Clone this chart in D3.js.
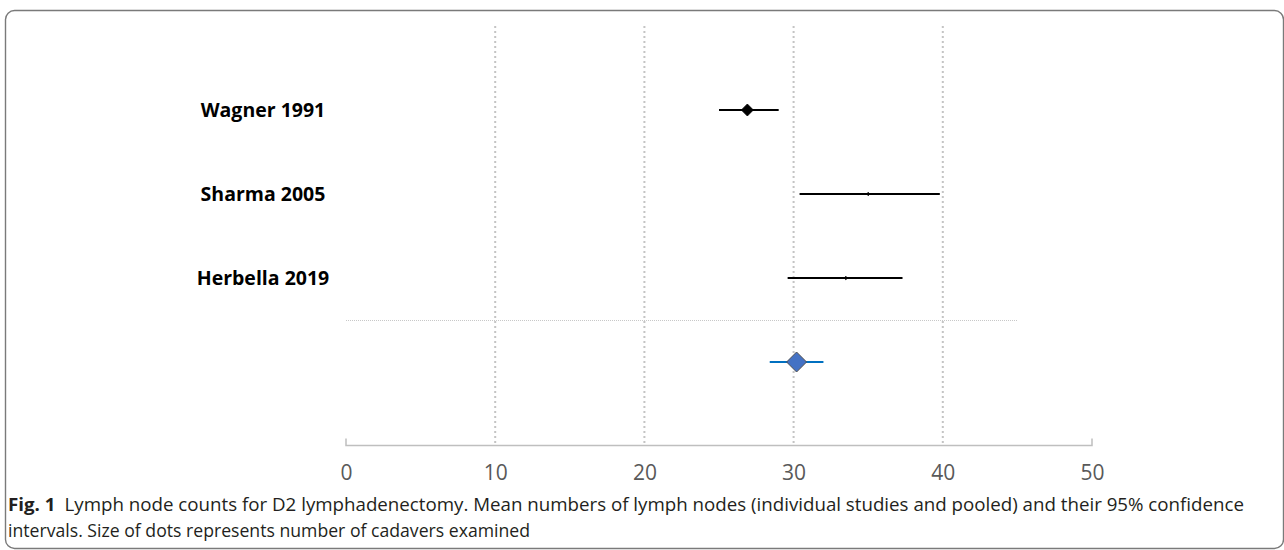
<!DOCTYPE html>
<html>
<head>
<meta charset="utf-8">
<script src="https://cdn.jsdelivr.net/npm/d3@7"></script>
<style>
  body { margin: 0; background: #fff; }
  svg { display: block; }
</style>
</head>
<body>
<div id="chart-area"></div>
<script>

// study data
let studies = ["Wagner 1991", "Sharma 2005", "Herbella 2019"];
let means = [26.9, 35.0, 33.5];
let lower = [25.0, 30.4, 29.6];
let upper = [29.0, 39.8, 37.3];
let cadavers = [100, 1, 1];   // relative weight -> marker size

// pooled estimate
let pooledMean = 30.2;
let pooledLower = 28.4;
let pooledUpper = 32.0;

let xTicks = [0, 10, 20, 30, 40, 50];

let captionBold = "Fig. 1";
let captionLine1 = "Lymph node counts for D2 lymphadenectomy. Mean numbers of lymph nodes (individual studies and pooled) and their 95% confidence";
let captionLine2 = "intervals. Size of dots represents number of cadavers examined";

let W = 1284, H = 550;

let svg = d3.select("#chart-area").append("svg")
    .attr("width", W)
    .attr("height", H);

// frame
svg.append("rect")
    .attr("x", 5.5).attr("y", 10.5)
    .attr("width", W - 6).attr("height", H - 12)
    .attr("rx", 9)
    .attr("fill", "none")
    .attr("stroke", "#7a7a7a")
    .attr("stroke-width", 1.4);

let x = d3.scaleLinear().domain([0, 50]).range([346, 1092]);
// row index -> vertical position
let y = d3.scaleLinear().domain([-1, 4]).range([26, 446]);

let g = svg.append("g");

// vertical dotted gridlines
g.selectAll(".grid")
    .data(xTicks.filter(d => d > 0 && d < 50))
    .enter().append("line")
    .attr("class", "grid")
    .attr("x1", d => x(d)).attr("x2", d => x(d))
    .attr("y1", y(-1)).attr("y2", y(4) - 1)
    .attr("stroke", "#c4c4c4")
    .attr("stroke-width", 2)
    .attr("stroke-dasharray", "2,3");

// horizontal separator before pooled row
g.append("line")
    .attr("x1", x(0)).attr("x2", x(45))
    .attr("y1", y(2.5) + 0.5).attr("y2", y(2.5) + 0.5)
    .attr("stroke", "#c8c8c8")
    .attr("stroke-width", 1)
    .attr("stroke-dasharray", "1,1");

// x axis
let xAxis = d3.axisBottom(x)
    .tickValues(xTicks)
    .tickSize(0)
    .tickPadding(20)
    .tickFormat(d3.format("d"));

let axisG = g.append("g")
    .attr("transform", "translate(0," + (y(4) - 0.5) + ")")
    .call(xAxis);
axisG.select(".domain").remove();
axisG.append("path")
    .attr("d", "M" + x(0) + ",-7V0H" + x(50) + "V-7")
    .attr("fill", "none")
    .attr("stroke", "#bfbfbf")
    .attr("stroke-width", 1.5);
axisG.selectAll("text")
    .attr("fill", "#595959")
    .style("font-family", "'Open Sans', 'Noto Sans', sans-serif")
    .style("font-size", "21px");

// study labels
g.selectAll(".label")
    .data(studies)
    .enter().append("text")
    .attr("class", "label")
    .attr("x", 263)
    .attr("y", (d, i) => y(i) + 7)
    .attr("text-anchor", "middle")
    .style("font-family", "'Open Sans', 'Noto Sans', sans-serif")
    .style("font-weight", "bold")
    .style("font-size", "19.5px")
    .text(d => d);

// confidence intervals
g.selectAll(".ci")
    .data(studies)
    .enter().append("line")
    .attr("class", "ci")
    .attr("x1", (d, i) => x(lower[i])).attr("x2", (d, i) => x(upper[i]))
    .attr("y1", (d, i) => y(i)).attr("y2", (d, i) => y(i))
    .attr("stroke", "#000")
    .attr("stroke-width", 2.2);

let size = d3.scaleSqrt().domain([0, 100]).range([1.2, 6]);

g.selectAll(".pt")
    .data(studies)
    .enter().append("path")
    .attr("class", "pt")
    .attr("transform", (d, i) => "translate(" + x(means[i]) + "," + y(i) + ")")
    .attr("d", (d, i) => {
        let r = size(cadavers[i]);
        return "M0," + (-r) + "L" + r + ",0L0," + r + "L" + (-r) + ",0Z";
    })
    .attr("fill", "#000")
    .attr("stroke", "#000")
    .attr("stroke-width", 0.8);

// pooled
g.append("line")
    .attr("x1", x(pooledLower)).attr("x2", x(pooledUpper))
    .attr("y1", y(3)).attr("y2", y(3))
    .attr("stroke", "#0070c0")
    .attr("stroke-width", 2.2);

let pr = 10;
g.append("path")
    .attr("transform", "translate(" + x(pooledMean) + "," + y(3) + ")")
    .attr("d", "M0," + (-pr) + "L" + pr + ",0L0," + pr + "L" + (-pr) + ",0Z")
    .attr("fill", "#4472c4")
    .attr("stroke", "#505050")
    .attr("stroke-width", 1);

// caption
let cap = svg.append("text")
    .attr("x", 8).attr("y", 511)
    .attr("textLength", 1236)
    .attr("lengthAdjust", "spacingAndGlyphs")
    .style("font-family", "'Open Sans', 'Noto Sans', sans-serif")
    .style("font-size", "18.5px")
    .attr("fill", "#231f20");
cap.append("tspan").style("font-weight", "bold").text(captionBold);
cap.append("tspan").attr("dx", 9).text(captionLine1);

svg.append("text")
    .attr("x", 8).attr("y", 537)
    .attr("textLength", 522)
    .attr("lengthAdjust", "spacingAndGlyphs")
    .style("font-family", "'Open Sans', 'Noto Sans', sans-serif")
    .style("font-size", "18.5px")
    .attr("fill", "#231f20")
    .text(captionLine2);

</script>
</body>
</html>
